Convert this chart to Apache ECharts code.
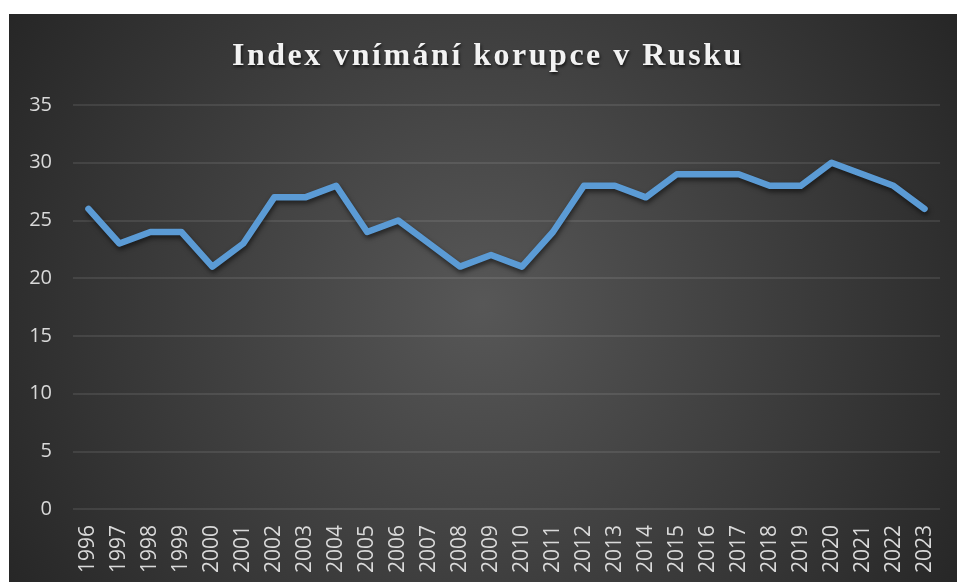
<!DOCTYPE html>
<html>
<head>
<meta charset="utf-8">
<title>Index vnímání korupce v Rusku</title>
<script src="https://cdn.jsdelivr.net/npm/echarts@6/dist/echarts.min.js"></script>
<style>
  html, body { margin: 0; padding: 0; background: #ffffff; }
  #chart { position: absolute; left: 9px; top: 14px; width: 948px; height: 568px; }
</style>
</head>
<body>
<div id="chart"></div>
<script>
const years = ['1996', '1997', '1998', '1999', '2000', '2001', '2002', '2003', '2004', '2005',
  '2006', '2007', '2008', '2009', '2010', '2011', '2012', '2013', '2014', '2015',
  '2016', '2017', '2018', '2019', '2020', '2021', '2022', '2023']
const cpiValues = [26, 23, 24, 24, 21, 23, 27, 27, 28, 24,
  25, 23, 21, 22, 21, 24, 28, 28, 27, 29,
  29, 29, 28, 28, 30, 29, 28, 26]
const chartTitle = 'Index vnímání korupce v Rusku'

// the title in the original is letter-spaced, canvas can do that per fillText
const TITLE_SIZE = 32
const origFillText = CanvasRenderingContext2D.prototype.fillText
CanvasRenderingContext2D.prototype.fillText = function (text, x, y, maxW) {
  this.letterSpacing = this.font.indexOf(TITLE_SIZE + 'px') >= 0 ? '2.5px' : '0px'
  return maxW === undefined ? origFillText.call(this, text, x, y) : origFillText.call(this, text, x, y, maxW)
}

const option = {
  backgroundColor: {
    type: 'radial',
    x: 474,
    y: 290,
    r: 560,
    global: true,
    colorStops: [
      { offset: 0, color: '#575757' },
      { offset: 1, color: '#262626' }
    ]
  },
  title: {
    text: chartTitle,
    left: 223,
    top: 27,
    padding: 0,
    textStyle: {
      fontFamily: 'Liberation Serif',
      fontWeight: 'bold',
      fontSize: TITLE_SIZE,
      color: '#f2f2f2',
      textShadowColor: 'rgba(0, 0, 0, 0.65)',
      textShadowBlur: 3,
      textShadowOffsetX: 1,
      textShadowOffsetY: 2
    }
  },
  grid: {
    left: 64,
    right: 17,
    top: 91,
    bottom: 73,
    containLabel: false
  },
  xAxis: {
    type: 'category',
    data: years,
    boundaryGap: true,
    axisLine: { show: false },
    axisTick: { show: false },
    axisLabel: {
      rotate: 90,
      margin: 16,
      interval: 0,
      color: '#d9d9d9',
      fontFamily: 'Open Sans',
      fontSize: 21
    }
  },
  yAxis: {
    type: 'value',
    min: 0,
    max: 35,
    interval: 5,
    axisLine: { show: false },
    axisTick: { show: false },
    axisLabel: {
      margin: 21,
      color: '#d9d9d9',
      fontFamily: 'Open Sans',
      fontSize: 20
    },
    splitLine: {
      lineStyle: { color: 'rgba(255, 255, 255, 0.12)', width: 1.5 }
    }
  },
  series: [
    {
      name: chartTitle,
      type: 'line',
      data: cpiValues,
      symbol: 'none',
      animation: false,
      lineStyle: {
        color: '#5b9bd5',
        width: 6.5,
        cap: 'round',
        join: 'round',
        shadowColor: 'rgba(0, 0, 0, 0.55)',
        shadowBlur: 5,
        shadowOffsetX: 1,
        shadowOffsetY: 3
      }
    }
  ]
}

const chart = echarts.init(document.getElementById('chart'))
chart.setOption(option)
window.addEventListener('resize', () => chart.resize())
</script>
</body>
</html>
